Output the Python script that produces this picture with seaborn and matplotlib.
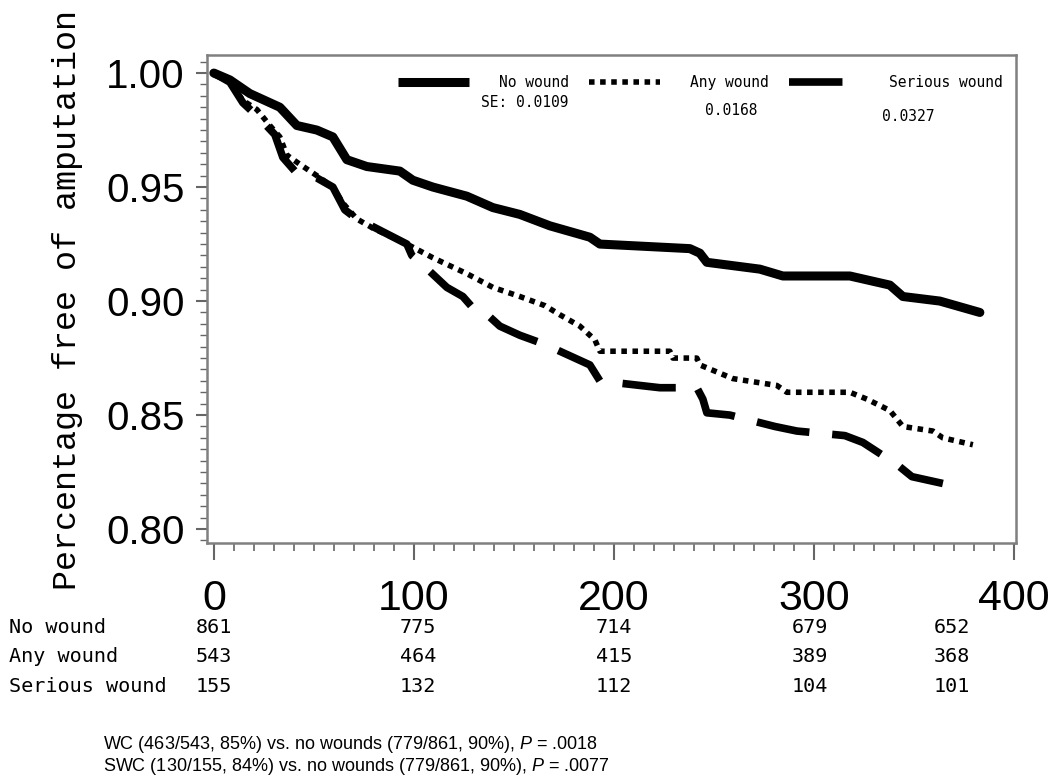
"""
Amputation-free survival by wound status (Kaplan-Meier style chart)
"""

import numpy as np
import pandas as pd
import seaborn as sns
import matplotlib.pyplot as plt
from matplotlib import transforms
from matplotlib.ticker import MultipleLocator, FormatStrFormatter

# survival curves (days, proportion free of amputation)
days_none = [0, 8, 18, 33, 41.5, 51.5, 59.5, 66.5, 76.5, 93, 99.5, 109.5, 126.5, 139.5,
             153, 168, 188, 193, 238, 243, 246.5, 273, 284.5, 318, 338, 344.5, 363, 383]
surv_none = [1.000, 0.997, 0.991, 0.985, 0.977, 0.975, 0.972, 0.962, 0.959, 0.957, 0.953,
             0.950, 0.946, 0.941, 0.938, 0.933, 0.928, 0.925, 0.923, 0.921, 0.917, 0.914,
             0.911, 0.911, 0.907, 0.902, 0.900, 0.895]

days_any = [0, 8, 14.5, 21.5, 28, 33, 36.5, 43, 51.5, 59.5, 64.5, 71.5, 79.5, 96.5, 109.5,
            126.5, 139.5, 153, 165.5, 173, 183, 190.5, 193, 228, 229.5, 241.5, 243, 259.5,
            281.5, 286.5, 318, 326.5, 338, 344.5, 359.5, 364.5, 379.5]
surv_any = [1.000, 0.996, 0.988, 0.984, 0.977, 0.972, 0.964, 0.960, 0.955, 0.950, 0.943,
            0.936, 0.932, 0.925, 0.919, 0.912, 0.906, 0.902, 0.898, 0.894, 0.889, 0.883,
            0.878, 0.878, 0.875, 0.875, 0.872, 0.866, 0.863, 0.860, 0.860, 0.857, 0.852,
            0.845, 0.843, 0.840, 0.837]

days_serious = [0, 8, 14.5, 23, 30.5, 34.5, 40.5, 51.5, 59.5, 65.5, 71.5, 76.5, 96.5, 99,
                108, 116.5, 124.5, 130.5, 138, 143, 153, 165.5, 178, 188, 193, 223, 241.5,
                244.5, 246.5, 258, 280.5, 291.5, 315.5, 324.5, 342, 349, 364.5]
surv_serious = [1.000, 0.996, 0.987, 0.980, 0.973, 0.963, 0.957, 0.954, 0.950, 0.940, 0.936,
                0.934, 0.925, 0.920, 0.913, 0.906, 0.902, 0.896, 0.893, 0.889, 0.885, 0.881,
                0.876, 0.872, 0.865, 0.862, 0.862, 0.857, 0.851, 0.850, 0.845, 0.843, 0.841,
                0.838, 0.828, 0.823, 0.820]

groups = ["No wound", "Any wound", "Serious wound"]
se_labels = ["SE: 0.0109", "0.0168", "0.0327"]

# numbers at risk
risk_days = [0, 102, 200, 298, 369]
risk_none = [861, 775, 714, 679, 652]
risk_any = [543, 464, 415, 389, 368]
risk_serious = [155, 132, 112, 104, 101]

notes = [
    "WC (463/543, 85%) vs. no wounds (779/861, 90%), $P$ = .0018",
    "SWC (130/155, 84%) vs. no wounds (779/861, 90%), $P$ = .0077",
]

sns.set_theme(style="ticks")
plt.rcParams["font.family"] = ["Liberation Sans", "DejaVu Sans"]
plt.rcParams.update({
    "text.color": "black",
    "axes.labelcolor": "black",
    "xtick.color": "#666666",
    "ytick.color": "#666666",
    "xtick.labelcolor": "black",
    "ytick.labelcolor": "black",
    "mathtext.fontset": "custom",
    "mathtext.rm": "Liberation Sans",
    "mathtext.it": "Liberation Sans:italic",
})

mono = ["DejaVu Sans Mono"]

fig = plt.figure(figsize=(10.5, 7.84), dpi=100)
ax = fig.add_axes([0.197, 0.3074, 0.7705, 0.6224])

curves = [(days_none, surv_none), (days_any, surv_any), (days_serious, surv_serious)]
line_styles = [
    dict(linewidth=6.5, linestyle="-"),
    dict(linewidth=4.0, linestyle=(0, (1, 1))),
    dict(linewidth=5.5, linestyle=(0, (7, 3))),
]
for name, (d, s), st in zip(groups, curves, line_styles):
    df = pd.DataFrame({"day": d, "surv": s})
    sns.lineplot(data=df, x="day", y="surv", ax=ax, color="black", label=name,
                 estimator=None, sort=False, solid_capstyle="round",
                 dash_capstyle="butt", **st)

ax.set_xlim(-3.5, 401)
ax.set_ylim(0.7939, 1.0079)
ax.set_xticks([0, 100, 200, 300, 400])
ax.xaxis.set_minor_locator(MultipleLocator(10))
ax.set_yticks([0.80, 0.85, 0.90, 0.95, 1.00])
ax.set_yticks(np.arange(0.795, 1.0051, 0.005), minor=True)
ax.yaxis.set_major_formatter(FormatStrFormatter("%.2f"))
ax.set_xlabel("")
ax.set_ylabel("Percentage free of amputation", fontfamily="Liberation Mono", fontsize=24)
ax.yaxis.label.set_va("center")
ax.yaxis.set_label_coords(-0.172, 0.498)

for sp in ax.spines.values():
    sp.set_color("#808080")
    sp.set_linewidth(1.8)
ax.tick_params(axis="x", which="major", length=12, width=1.5, labelsize=31, pad=14)
ax.tick_params(axis="x", which="minor", length=6, width=1.2)
ax.tick_params(axis="y", which="major", length=8, width=1.5, labelsize=29, pad=8)
ax.tick_params(axis="y", which="minor", length=5, width=1.0)

leg = ax.legend(ncol=3, loc="upper left", bbox_to_anchor=(0.22, 0.985),
                frameon=False, handlelength=4.9, handletextpad=2.0,
                columnspacing=1.4, prop={"family": mono, "size": 10.5})
leg.legend_handles[0].set_solid_capstyle("butt")

se_pos = [(0.339, 0.902), (0.616, 0.887), (0.834, 0.875)]
for txt, (x, y) in zip(se_labels, se_pos):
    ax.text(x, y, txt, transform=ax.transAxes, family=mono, fontsize=10.5,
            va="center", ha="left")

# numbers-at-risk table under the axis
row_y = [0.199, 0.162, 0.124]
blend = transforms.blended_transform_factory(ax.transData, fig.transFigure)
for name, counts, y in zip(groups, [risk_none, risk_any, risk_serious], row_y):
    fig.text(0.009, y, name, family=mono, fontsize=14.5, va="center", ha="left")
    for d, c in zip(risk_days, counts):
        ax.text(d, y, str(c), transform=blend, family=mono, fontsize=14.5,
                va="center", ha="center", clip_on=False)

for i, note in enumerate(notes):
    fig.text(0.098, 0.051 - i * 0.029, note, fontsize=13, va="center", ha="left")

fig.savefig("out.png", dpi=100)
plt.close(fig)
